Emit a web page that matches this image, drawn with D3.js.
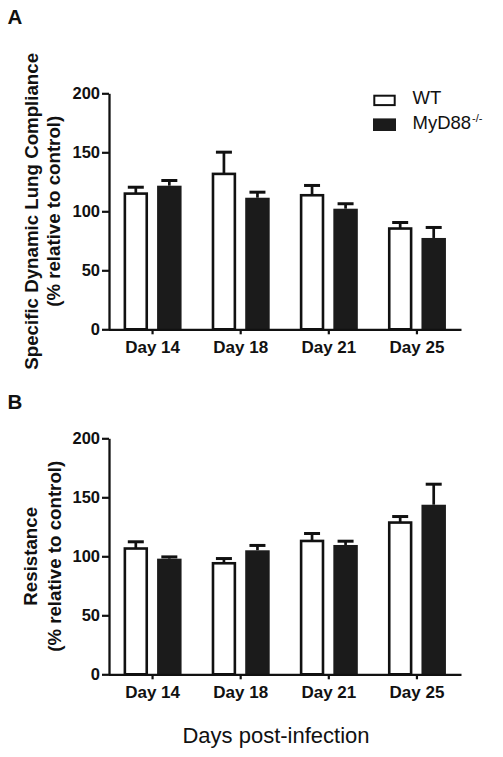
<!DOCTYPE html>
<html><head><meta charset="utf-8">
<script src="https://cdn.jsdelivr.net/npm/d3@7"></script>
<style>body{margin:0;background:#fff} svg{display:block} text{font-family:"Liberation Sans",Arial,sans-serif}</style>
</head><body>
<svg id="c" width="503" height="757"></svg>
<script>
const categories = ["Day 14", "Day 18", "Day 21", "Day 25"];
const series = ["WT", "MyD88"];
const yTicks = [0, 50, 100, 150, 200];
const complianceWT = [115.0, 131.7, 113.6, 85.4];
const complianceWTErr = [5.4, 18.4, 8.3, 5.1];
const complianceKO = [121.7, 111.5, 102.2, 77.4];
const complianceKOErr = [4.4, 4.7, 4.2, 8.9];
const resistanceWT = [106.6, 94.1, 113.0, 128.6];
const resistanceWTErr = [5.7, 4.0, 6.3, 5.1];
const resistanceKO = [98.0, 105.1, 109.6, 143.7];
const resistanceKOErr = [1.5, 4.1, 3.2, 17.4];

const svg = d3.select("#c");
const FONT = '"Liberation Sans", Arial, sans-serif';
const INK = "#111";
const KOFILL = "#1b1b1b";

const x0 = d3.scaleBand().domain(categories).range([108.5, 461]).padding(0);
const x1 = d3.scaleBand().domain(series).range([-29, 29]).paddingInner(0.27).paddingOuter(0);

function panel(yTop, yBottom, wt, wtErr, ko, koErr, titleLines, titleXs, letter, letterY) {
  const y = d3.scaleLinear().domain([0, 200]).range([yBottom, yTop]);
  const g = svg.append("g");

  // y axis
  const ya = g.append("g").attr("transform", "translate(109,0)")
    .call(d3.axisLeft(y).tickValues(yTicks).tickSize(7).tickSizeOuter(0).tickPadding(2));
  ya.select(".domain").attr("stroke", INK).attr("stroke-width", 2.3);
  ya.selectAll(".tick line").attr("stroke", INK).attr("stroke-width", 2.2);
  ya.selectAll(".tick text").attr("font-family", FONT).attr("font-size", 16.5)
    .attr("font-weight", "bold").attr("fill", INK);

  const rows = categories.map((c, i) => ({ c, vals: [
    { s: "WT", v: wt[i], e: wtErr[i] },
    { s: "MyD88", v: ko[i], e: koErr[i] } ] }));

  const bw = x1.bandwidth();
  const grp = g.append("g").selectAll("g").data(rows).join("g")
    .attr("transform", d => `translate(${x0(d.c) + x0.bandwidth() / 2},0)`);

  // error bars (upper only)
  grp.selectAll("line.err").data(d => d.vals).join("line").attr("class", "err")
    .attr("x1", d => x1(d.s) + bw / 2).attr("x2", d => x1(d.s) + bw / 2)
    .attr("y1", d => y(d.v)).attr("y2", d => y(d.v + d.e))
    .attr("stroke", INK).attr("stroke-width", 2.7);
  grp.selectAll("line.cap").data(d => d.vals).join("line").attr("class", "cap")
    .attr("x1", d => x1(d.s) + bw / 2 - 8).attr("x2", d => x1(d.s) + bw / 2 + 8)
    .attr("y1", d => y(d.v + d.e)).attr("y2", d => y(d.v + d.e))
    .attr("stroke", INK).attr("stroke-width", 3);

  // bars
  grp.selectAll("rect").data(d => d.vals).join("rect")
    .attr("x", d => x1(d.s) + (d.s === "WT" ? 1.3 : 0))
    .attr("width", d => bw - (d.s === "WT" ? 2.6 : 0))
    .attr("y", d => y(d.v))
    .attr("height", d => yBottom - y(d.v))
    .attr("fill", d => d.s === "WT" ? "#fff" : KOFILL)
    .attr("stroke", d => d.s === "WT" ? INK : "none")
    .attr("stroke-width", 2.6);

  // x axis
  const xa = g.append("g").attr("transform", `translate(0,${yBottom})`)
    .call(d3.axisBottom(x0).tickSize(5).tickSizeOuter(0).tickPadding(6.5));
  xa.select(".domain").attr("stroke", INK).attr("stroke-width", 2.3);
  xa.selectAll(".tick line").attr("stroke", INK).attr("stroke-width", 2.2);
  xa.selectAll(".tick text").attr("font-family", FONT).attr("font-size", 17)
    .attr("font-weight", "bold").attr("fill", INK);

  // y title
  const cy = (yTop + yBottom) / 2;
  titleLines.forEach((t, i) => {
    g.append("text").attr("transform", `translate(${titleXs[i]},${cy}) rotate(-90)`)
      .attr("text-anchor", "middle").attr("font-family", FONT).attr("font-size", 18.7)
      .attr("font-weight", "bold").attr("fill", INK).text(t);
  });

  // panel letter
  svg.append("text").attr("x", 7.5).attr("y", letterY).attr("font-family", FONT)
    .attr("font-size", 20.5).attr("font-weight", "bold").attr("fill", INK).text(letter);
}

panel(93.3, 329.3, complianceWT, complianceWTErr, complianceKO, complianceKOErr,
  ["Specific Dynamic Lung Compliance", "(% relative to control)"], [38, 59.5], "A", 24);
panel(438.3, 674.3, resistanceWT, resistanceWTErr, resistanceKO, resistanceKOErr,
  ["Resistance", "(% relative to control)"], [36.7, 61], "B", 409.3);

// legend
const legendLabels = ["WT", "MyD88"];
const leg = svg.append("g");
legendLabels.forEach((s, i) => {
  const cy = 100.3 + i * 24.4;
  leg.append("rect").attr("x", s === "WT" ? 374.3 : 373).attr("y", s === "WT" ? cy - 4.6 : cy - 6.3)
    .attr("width", s === "WT" ? 20.4 : 23).attr("height", s === "WT" ? 9.4 : 12.6)
    .attr("fill", s === "WT" ? "#fff" : KOFILL).attr("stroke", s === "WT" ? INK : "none")
    .attr("stroke-width", 2);
  const t = leg.append("text").attr("x", 412.5).attr("y", cy + 4 + (i ? 0.3 : 0))
    .attr("font-family", FONT).attr("font-size", 18.5).attr("fill", INK);
  t.append("tspan").text(s === "WT" ? "WT" : "MyD88");
  if (s !== "WT") {
    t.append("tspan").attr("font-size", 11).attr("dy", -7.5).attr("dx", 1).text("-/-");
  }
});

// shared x title
svg.append("text").attr("x", 276).attr("y", 743).attr("text-anchor", "middle")
  .attr("font-family", FONT).attr("font-size", 22).attr("fill", INK).text("Days post-infection");
</script>
</body></html>
